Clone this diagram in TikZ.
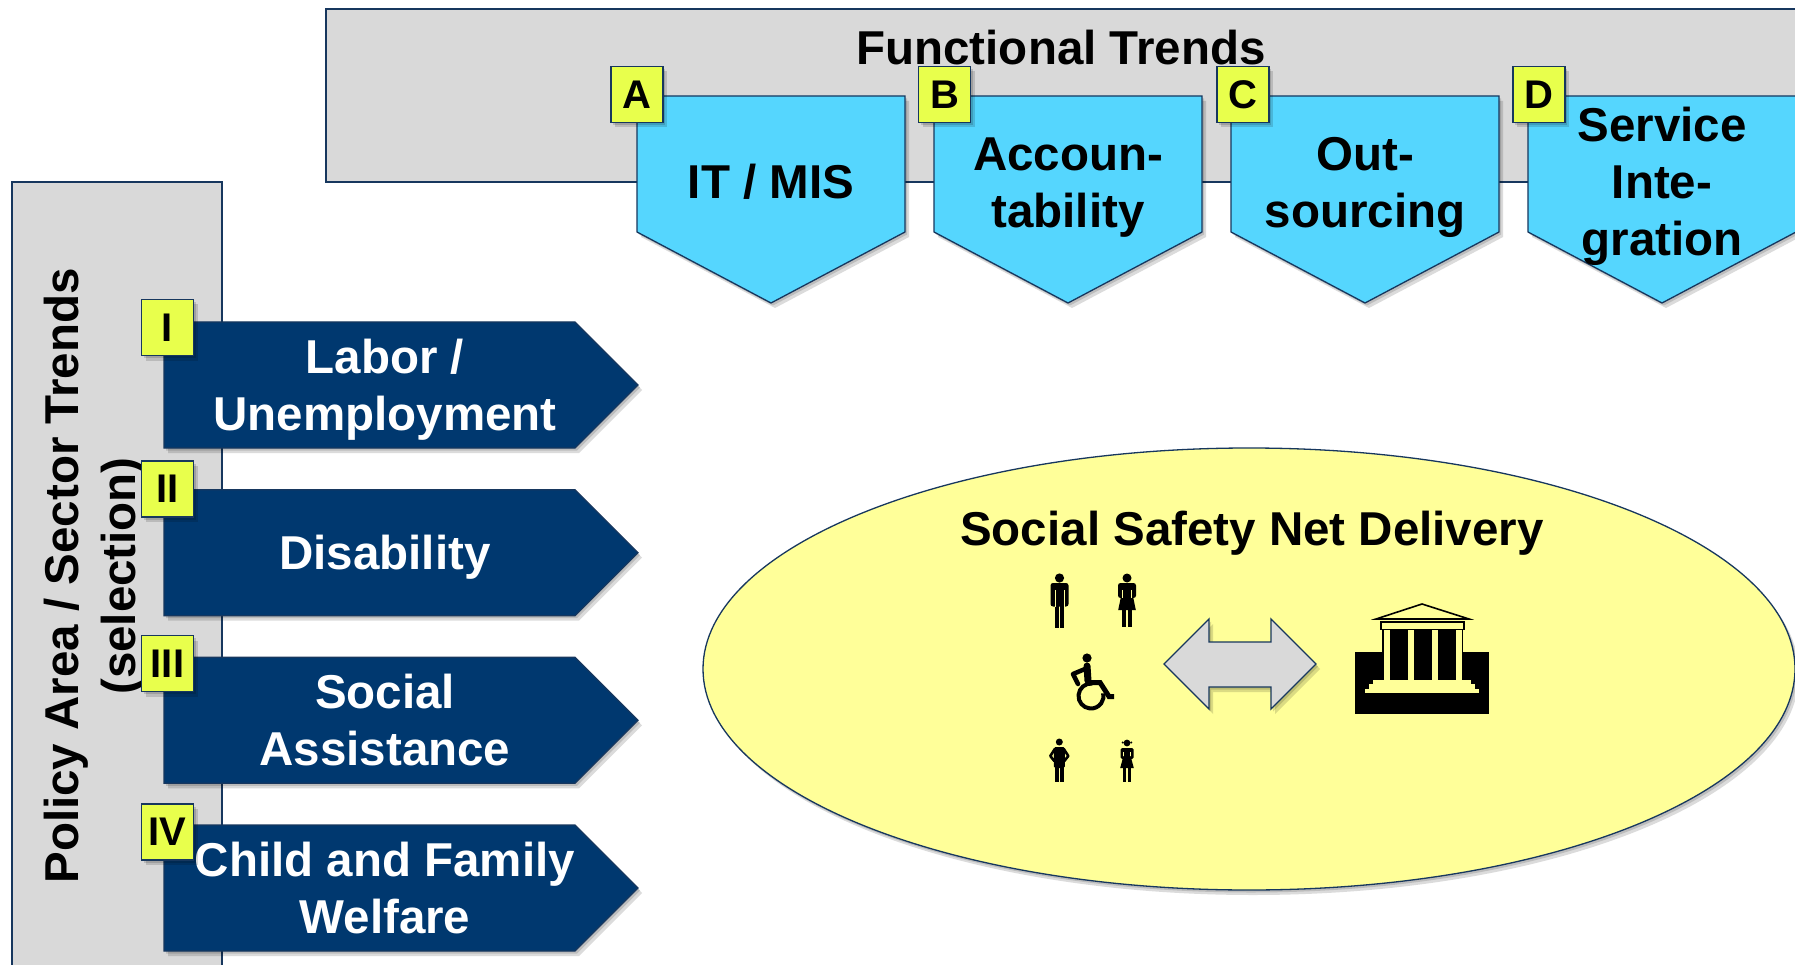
\documentclass[tikz,border=0pt]{standalone}
\usepackage{fontspec}
\setmainfont{Liberation Sans}
\usetikzlibrary{shadows}
\definecolor{navy}{HTML}{17375E}
\definecolor{gbox}{HTML}{D9D9D9}
\definecolor{cyanbox}{HTML}{55D6FE}
\definecolor{lbl}{HTML}{E8FF4C}
\definecolor{darkarrow}{HTML}{00386F}
\definecolor{ellfill}{HTML}{FFFF99}
\tikzset{
  txt/.style={font=\fontsize{47.5}{57}\selectfont\bfseries, align=center, inner sep=0pt},
  softshadow/.style={drop shadow={opacity=0.14, shadow xshift=2pt, shadow yshift=-2.5pt, fill=black},
                     drop shadow={opacity=0.14, shadow xshift=4pt, shadow yshift=-5pt, fill=black}},
  shp/.style={draw=navy, line width=1.3pt, softshadow},
  panel/.style={draw=navy, line width=1.3pt, fill=gbox},
  lblbox/.style={draw=navy, line width=1.3pt, fill=lbl, minimum width=52pt, minimum height=56pt,
                 inner sep=0pt, font=\fontsize{40}{44}\selectfont\bfseries, softshadow},
  man/.pic={
    \fill (0,0) circle[radius=4.6];
    \fill[rounded corners=2.5pt] (-9,5) rectangle (9,28.5);
    \fill (-4.8,24) rectangle (-0.6,50);
    \fill (0.6,24) rectangle (4.8,50);
    \draw[ellfill, line width=0.6pt] (-4.6,12) -- (-4.6,28.5) (4.6,12) -- (4.6,28.5);
  },
  woman/.pic={
    \fill (0,0) circle[radius=4.5];
    \fill[rounded corners=2.5pt] (-9,5) rectangle (9,20);
    \fill (-5.5,16) -- (5.5,16) -- (8.8,32) -- (-8.8,32) -- cycle;
    \fill (-4.8,31) rectangle (-0.8,49);
    \fill (0.8,31) rectangle (4.8,49);
    \draw[ellfill, line width=0.6pt] (-4.6,12) -- (-4.6,20) (4.6,12) -- (4.6,20);
  },
  wheelie/.pic={
    \fill (-4,-38) circle[radius=4.6];
    \draw[line width=7pt, line cap=round] (-4,-30) -- (-3,-15);
    \draw[line width=4.5pt, line cap=round, line join=round] (-6,-27) -- (-18,-22) -- (-13,-12);
    \draw[line width=5pt, line join=miter] (-5,-13.5) -- (9,-13.5) -- (18,0.5) -- (23,0.5);
    \draw[line width=4pt] (-85:12.5) arc[start angle=-85, end angle=-372, radius=12.5];
  },
  boy/.pic={
    \fill (0,0) circle[radius=3.5];
    \fill[rounded corners=1.5pt] (-5.5,5) rectangle (5.5,26);
    \draw[line width=2.6pt, line join=round, line cap=round] (-4.5,7) -- (-9,14) -- (-5,19);
    \draw[line width=2.6pt, line join=round, line cap=round] (4.5,7) -- (9,14) -- (5,19);
    \fill (-4.2,24) rectangle (-0.6,40);
    \fill (0.6,24) rectangle (4.2,40);
  },
  girl/.pic={
    \fill (0,0) circle[radius=3.4];
    \fill (-4.3,-0.5) circle[radius=1.1];
    \fill (4.3,-0.5) circle[radius=1.1];
    \fill[rounded corners=1.5pt] (-6.5,5) rectangle (6.5,16);
    \draw[ellfill, line width=0.5pt] (-3.6,9) -- (-3.6,16) (3.6,9) -- (3.6,16);
    \fill (-3.6,13) -- (3.6,13) -- (6.8,25) -- (-6.8,25) -- cycle;
    \fill (-3.8,24) rectangle (-0.6,39);
    \fill (0.6,24) rectangle (3.8,39);
  },
}
\begin{document}
\begin{tikzpicture}[x=1pt,y=-1pt]
\useasboundingbox (0,0) rectangle (1795,965);
\clip (0,0) rectangle (1795,965);
\fill[white] (0,0) rectangle (1795,965);

% panels
\draw[panel] (326,9) rectangle (1840,182);
\draw[panel] (12,182) rectangle (222,1000);

% chevrons
\draw[shp, fill=cyanbox] (637,96) -- (905,96) -- (905,232) -- (771,303) -- (637,232) -- cycle;
\draw[shp, fill=cyanbox] (934,96) -- (1202,96) -- (1202,232) -- (1068,303) -- (934,232) -- cycle;
\draw[shp, fill=cyanbox] (1231,96) -- (1499,96) -- (1499,232) -- (1365,303) -- (1231,232) -- cycle;
\draw[shp, fill=cyanbox] (1528,96) -- (1796,96) -- (1796,232) -- (1662,303) -- (1528,232) -- cycle;

\node[txt] (ft) at (1061,53.6) {\strut Functional Trends};
\node[txt] (ca) at (771,187.6) {\strut IT / MIS};
\node[txt] (cb) at (1068,187.6) {\strut Accoun-\\\strut tability};
\node[txt] (cc) at (1365,187.6) {\strut Out-\\\strut sourcing};
\node[txt] (cd) at (1662,187.6) {\strut Service\\\strut Inte-\\\strut gration};

\node[lblbox] (la) at (637,94.5) {A};
\node[lblbox] (lb) at (944.5,94.5) {B};
\node[lblbox] (lc) at (1243,94.5) {C};
\node[lblbox] (ld) at (1539,94.5) {D};

% vertical label
\node[txt, rotate=90] (pa) at (95.1,576) {\strut Policy Area / Sector Trends\\\strut (selection)};

% policy arrows
\draw[shp, fill=darkarrow] (164,322) -- (575,322) -- (638,385) -- (575,448) -- (164,448) -- cycle;
\draw[shp, fill=darkarrow] (164,489.7) -- (575,489.7) -- (638,552.7) -- (575,615.7) -- (164,615.7) -- cycle;
\draw[shp, fill=darkarrow] (164,657.3) -- (575,657.3) -- (638,720.3) -- (575,783.3) -- (164,783.3) -- cycle;
\draw[shp, fill=darkarrow] (164,825) -- (575,825) -- (638,888) -- (575,951) -- (164,951) -- cycle;

\node[txt, text=white] (p1) at (385,390.6) {\strut Labor /\\\strut Unemployment};
\node[txt, text=white] (p2) at (385,558.3) {\strut Disability};
\node[txt, text=white] (p3) at (385,725.9) {\strut Social\\\strut Assistance};
\node[txt, text=white] (p4) at (385,893.6) {\strut Child and Family\\\strut Welfare};

\node[lblbox] (l1) at (167.5,327.5) {I};
\node[lblbox] (l2) at (167.5,489) {II};
\node[lblbox] (l3) at (167.5,663.5) {III};
\node[lblbox] (l4) at (167.5,832) {IV};

% ellipse
\draw[shp, fill=ellfill] (1249,669) ellipse[x radius=546, y radius=221];
\node[txt] (sn) at (1252,533.6) {\strut Social Safety Net Delivery};

% people
\pic at (1059.5,578) {man};
\pic at (1127,578) {woman};
\pic at (1091,696) {wheelie};
\pic at (1059.3,742) {boy};
\pic at (1127,743) {girl};

% double arrow
\draw[shp, fill=gbox, line join=miter] (1164,664) -- (1209,619) -- (1209,642) -- (1271,642) -- (1271,619)
  -- (1316,664) -- (1271,709) -- (1271,687) -- (1209,687) -- (1209,709) -- cycle;

% building
\fill[black] (1355,652) rectangle (1489,714);
\fill[black] (1382,629) rectangle (1463,681);
\fill[ellfill] (1383.5,630) rectangle (1389.5,680);
\fill[ellfill] (1407.5,630) rectangle (1413.5,680);
\fill[ellfill] (1432,630) rectangle (1438,680);
\fill[ellfill] (1455.5,630) rectangle (1461.5,680);
\fill[ellfill] (1373,680) rectangle (1471,683.5);
\fill[ellfill] (1369,683.5) rectangle (1475,688.5);
\fill[ellfill] (1365,688.5) rectangle (1479,693);
\draw[black, line width=1.3pt, fill=ellfill] (1381,622) rectangle (1464,629.5);
\draw[black, line width=1.6pt, fill=ellfill, line join=miter] (1376,619) -- (1422,604) -- (1469,619) -- cycle;
\end{tikzpicture}
\end{document}
